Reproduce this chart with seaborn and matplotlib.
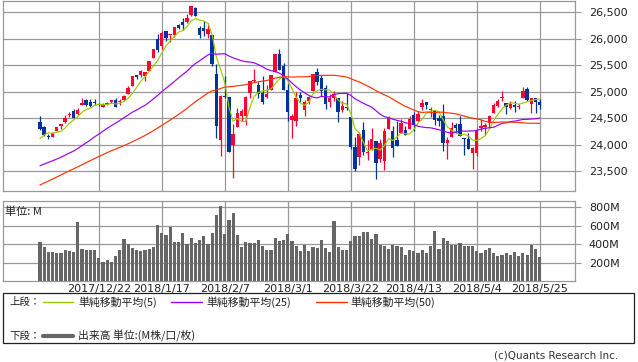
import matplotlib
matplotlib.use('Agg')
import matplotlib.pyplot as plt
import matplotlib.ticker as mticker
from matplotlib.lines import Line2D
from matplotlib.patches import Rectangle
import seaborn as sns
import pandas as pd
import numpy as np

# trading days shown (US market, holidays skipped)
holidays = ['2017-12-25', '2018-01-01', '2018-01-15', '2018-02-19', '2018-03-30']
dates = pd.bdate_range('2017-12-04', '2018-05-25', freq='C', holidays=holidays)

# closes before the window, only used for the moving averages
prior_closes = [
    22296, 22284, 22341, 22381, 22405,
    22558, 22642, 22662, 22775, 22774, 22761, 22831, 22873, 22841, 22872,
    22957, 22997, 23158, 23163, 23329, 23274, 23442, 23329, 23401, 23434,
    23349, 23377,
    23435, 23516, 23539, 23548, 23557, 23563, 23462, 23422, 23440, 23409,
    23271, 23458, 23358, 23430, 23591, 23526, 23558, 23581, 23837, 23941,
    24272, 24232,
]

opens = [
    24424, 24335, 24157, 24139, 24263, 24357, 24429, 24555, 24627, 24580,
    24740, 24838, 24813, 24788, 24771, 24716, 24766, 24797, 24849,
    24809, 24850, 24964, 25114, 25308, 25312, 25305, 25396, 25638, 25987,
    25858, 26153, 26070, 26072, 26263, 26314, 26313, 26458, 26584, 26198, 26198,
    26083, 26062, 25338, 24085, 24894, 24903, 23992, 24337, 24541, 24535,
    24982, 25199, 25124, 24981, 24894, 25034, 25374, 25709, 25479,
    25025, 24468, 24449, 24943, 24659, 24817, 25012, 25376, 25254, 25077,
    24799, 24877, 24874, 24647, 24712, 24524, 23958, 23773, 24270, 23834, 23902,
    24076, 23726, 23693, 24301, 24251, 24078, 24211, 24274, 24290, 24551,
    24454, 24715, 24800, 24653, 24645, 24494, 24542, 24033, 24136, 24367, 24391,
    24117, 24097, 23836, 23849, 24317, 24341, 24399, 24592, 24736, 24871,
    24780, 24693, 24749, 24706, 24883, 25047, 24767, 24886, 24806,
]
highs = [
    24534, 24349, 24200, 24230, 24330, 24387, 24552, 24609, 24669, 24698,
    24876, 24857, 24852, 24870, 24785, 24777, 24799, 24843, 24876,
    24864, 24941, 25105, 25299, 25311, 25401, 25370, 25575, 25804, 26086,
    26154, 26153, 26072, 26215, 26288, 26392, 26459, 26617, 26608, 26239, 26338,
    26306, 26062, 25521, 24946, 25294, 24904, 24382, 24700, 24668, 24924,
    25200, 25433, 25174, 25294, 25123, 25310, 25710, 25800, 25537,
    25138, 24568, 24986, 24987, 24833, 24909, 25336, 25449, 25307, 25123,
    24953, 25013, 24874, 24829, 24978, 24524, 24148, 24246, 24427, 24079, 24314,
    24076, 24101, 24322, 24540, 24357, 24445, 24474, 24355, 24532, 24622,
    24631, 24858, 24800, 24704, 24645, 24559, 24758, 24138, 24425, 24410, 24543,
    24117, 24216, 23955, 24315, 24479, 24412, 24564, 24782, 24868, 25012,
    24780, 24830, 24826, 24767, 25087, 25086, 24889, 24887, 24852,
]
lows = [
    24275, 24168, 24114, 24139, 24259, 24291, 24410, 24522, 24494, 24555,
    24740, 24733, 24705, 24740, 24727, 24716, 24745, 24784, 24718,
    24742, 24825, 24963, 25114, 25236, 25279, 25200, 25396, 25638, 25752,
    25802, 25949, 25942, 26024, 26179, 26163, 26306, 26439, 26435, 26009, 26050,
    26014, 25490, 24122, 23779, 24873, 23861, 23360, 24337, 24442, 24367,
    24887, 25187, 24875, 24775, 24877, 25034, 25374, 25404, 25030,
    24450, 24118, 24345, 24800, 24545, 24770, 25012, 25122, 24920, 24681,
    24706, 24829, 24417, 24624, 24657, 23924, 23509, 23606, 23795, 23713, 23902,
    23344, 23671, 23523, 24301, 23761, 23980, 24211, 24185, 24290, 24247,
    24454, 24661, 24670, 24525, 24375, 24352, 23874, 23724, 24136, 24217, 24161,
    23808, 23912, 23532, 23778, 24263, 24177, 24326, 24592, 24710, 24827,
    24569, 24664, 24617, 24679, 24883, 24817, 24604, 24594, 24665,
]
closes = [
    24290, 24181, 24141, 24211, 24329, 24386, 24505, 24585, 24509, 24652,
    24792, 24755, 24727, 24782, 24754, 24746, 24774, 24838, 24719,
    24824, 24923, 25075, 25296, 25283, 25386, 25369, 25575, 25803, 25793,
    26116, 26018, 26072, 26215, 26211, 26252, 26393, 26617, 26439, 26077, 26149,
    26187, 25521, 24346, 24913, 24893, 23860, 24191, 24601, 24640, 24893,
    25200, 25219, 24965, 24798, 24962, 25310, 25709, 25410, 25029,
    24609, 24538, 24875, 24884, 24801, 24895, 25336, 25179, 25007, 24758,
    24874, 24947, 24611, 24727, 24682, 23958, 23533, 24203, 23858, 23848, 24103,
    23644, 24033, 24264, 24505, 23933, 23979, 24408, 24189, 24483, 24360,
    24573, 24787, 24748, 24665, 24463, 24449, 24024, 24084, 24322, 24311, 24163,
    24099, 23925, 23930, 24263, 24357, 24360, 24543, 24740, 24831, 24899,
    24706, 24769, 24714, 24715, 25013, 24834, 24887, 24812, 24753,
]
# volume, millions of shares
volumes = [
    429, 374, 319, 319, 301, 301, 341, 330, 319, 638, 352, 341, 341, 341, 253,
    209, 231, 209, 275, 341, 462, 407, 363, 341, 330, 341, 352, 374, 605, 517,
    495, 583, 429, 429, 517, 407, 473, 418, 451, 484, 407, 517, 716, 815, 506,
    661, 738, 495, 374, 429, 418, 418, 451, 385, 341, 341, 473, 440, 451, 506,
    440, 385, 330, 396, 330, 374, 363, 451, 363, 319, 650, 374, 341, 341, 440,
    484, 484, 528, 528, 462, 506, 396, 385, 352, 396, 385, 374, 286, 341, 330,
    308, 341, 308, 385, 539, 352, 473, 440, 396, 396, 418, 385, 385, 385, 330,
    308, 341, 363, 308, 275, 286, 308, 286, 319, 275, 308, 286, 396, 352, 264,
]

df = pd.DataFrame({'date': dates, 'open': opens, 'high': highs,
                   'low': lows, 'close': closes, 'volume': volumes})
df['idx'] = np.arange(len(df))
all_close = pd.Series(prior_closes + closes)
n0 = len(prior_closes)
for w in (5, 25, 50):
    df[f'ma{w}'] = all_close.rolling(w).mean().iloc[n0:].to_numpy()

RED = '#FF0033'
BLUE = '#003399'
GRID = '#999999'
MA_COLORS = {5: '#99CC00', 25: '#9900FF', 50: '#FF3300'}

sns.set_style('white')
plt.rcParams['font.family'] = ['DejaVu Sans', 'Noto Sans CJK JP']
JP = ['Noto Sans CJK JP', 'DejaVu Sans']

W, H = 638, 362
fig = plt.figure(figsize=(W / 100, H / 100), dpi=100)

def fx(px):
    return px / W

def fy(py):
    return 1 - py / H

ax = fig.add_axes([fx(3), fy(190.5), fx(575 - 3), fy(1) - fy(190.5)])
axv = fig.add_axes([fx(3), fy(281), fx(575 - 3), fy(201) - fy(281)])

xmin, xmax = -8.8, 127.4
grid_idx = list(range(14, len(df), 15))

# candles
up = df['close'] >= df['open']
colors = np.where(up, RED, BLUE)
ax.vlines(df['idx'], df['low'], df['high'], colors=colors, lw=0.9, zorder=3)
body = (df['close'] - df['open']).abs().clip(lower=18)
ax.bar(df['idx'], body, bottom=df[['open', 'close']].min(axis=1),
       width=0.8, color=colors, linewidth=0, zorder=4)

for w in (5, 25, 50):
    sns.lineplot(data=df, x='idx', y=f'ma{w}', ax=ax, color=MA_COLORS[w],
                 lw=0.85, zorder=5)

ax.set_xlim(xmin, xmax)
ax.set_ylim(23131, 26714)
ax.set_yticks(np.arange(23500, 26501, 500))
ax.yaxis.set_major_formatter(mticker.FuncFormatter(lambda v, p: f'{v:,.0f}'))
ax.set_xticks(grid_idx)
ax.set_xticklabels([])

# volume
sns.barplot(data=df, x='idx', y='volume', native_scale=True, ax=axv,
            color='#666666', width=0.75, saturation=1, linewidth=0, zorder=3)
axv.set_xlim(xmin, xmax)
axv.set_ylim(0, 870)
axv.set_yticks([200, 400, 600, 800])
axv.set_yticklabels(['200M', '400M', '600M', '800M'])
axv.set_xticks(grid_idx)
axv.set_xticklabels([f'{d.year}/{d.month}/{d.day}' for d in df['date'].iloc[grid_idx]])
axv.text(0.004, 0.93, '単位: M', transform=axv.transAxes, ha='left', va='top',
         fontsize=8, family=JP, color='#222222')

for a in (ax, axv):
    a.set_xlabel('')
    a.set_ylabel('')
    a.grid(True, color=GRID, lw=0.9)
    a.set_axisbelow(True)
    for s in a.spines.values():
        s.set_color(GRID)
        s.set_linewidth(0.9)
    a.yaxis.tick_right()
    a.tick_params(axis='y', which='both', direction='out', length=4,
                  color=GRID, labelsize=8, labelcolor='#222222', pad=6)
    a.tick_params(axis='x', length=0, labelsize=8, labelcolor='#222222', pad=2)

# legend box
fig.add_artist(Rectangle((fx(3), fy(343)), fx(634 - 3), fy(293) - fy(343),
                         transform=fig.transFigure, fill=False,
                         edgecolor='#222222', lw=0.9))
row1, row2 = fy(302), fy(336)
fig.text(fx(9), row1, '上段：', family=JP, fontsize=7.5, va='center', color='#222222')
fig.text(fx(9), row2, '下段：', family=JP, fontsize=7.5, va='center', color='#222222')
entries = [(43, 73, 78, MA_COLORS[5], '単純移動平均(5)'),
           (171, 202, 206, MA_COLORS[25], '単純移動平均(25)'),
           (316, 347, 350, MA_COLORS[50], '単純移動平均(50)')]
for x0, x1, tx, c, label in entries:
    fig.add_artist(Line2D([fx(x0), fx(x1)], [row1, row1], color=c, lw=1.0,
                          transform=fig.transFigure))
    fig.text(fx(tx), row1, label, family=JP, fontsize=7.8, va='center', color='#222222')
fig.add_artist(Line2D([fx(43), fx(73)], [row2, row2], color='#666666', lw=3.0,
                      transform=fig.transFigure))
fig.text(fx(78), row2, '出来高 単位:(M株/口/枚)', family=JP, fontsize=7.8,
         va='center', color='#222222')

fig.text(fx(618), fy(355), '(c)Quants Research Inc.', fontsize=7.5,
         ha='right', va='center', color='#333333')

fig.savefig('out.png', dpi=100)
